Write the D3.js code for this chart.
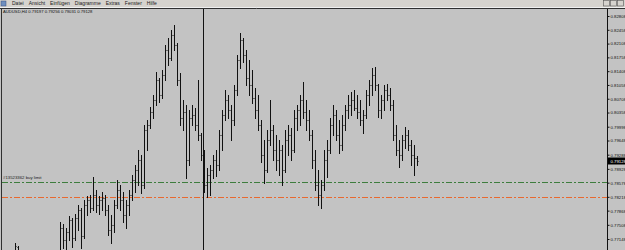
<!DOCTYPE html>
<html>
<head>
<meta charset="utf-8">
<script src="https://cdn.jsdelivr.net/npm/d3@7"></script>
<style>
html, body { margin: 0; padding: 0; overflow: hidden; background: #c3c3c3; }
svg { display: block; }
text { font-family: "Liberation Sans", Arial, sans-serif; }
</style>
</head>
<body>
<svg id="chart" width="625" height="250"></svg>
<script>
// menu + symbol
const menuItems = ['Datei', 'Ansicht', 'Einfügen', 'Diagramme', 'Extras', 'Fenster', 'Hilfe'];
const symbol = 'AUDUSD,H4';

// price scale labels (right side)
const priceTicks = [0.82808, 0.82458, 0.82108, 0.81758, 0.81408, 0.81058, 0.80708, 0.80358,
  0.79998, 0.79648, 0.79288, 0.78928, 0.78578, 0.78218, 0.77868, 0.77508, 0.77148];

// H4 bars, oldest first
const opens = [
  0.7674, 0.7694, 0.7667, 0.7656, 0.7641, 0.7628, 0.7636, 0.7649, 0.7641, 0.7626,
  0.7636, 0.7651, 0.7656, 0.7667, 0.7656, 0.7679, 0.7743, 0.7712, 0.7733, 0.7763,
  0.7717, 0.7768, 0.7788, 0.7722, 0.7801, 0.7814, 0.7793, 0.7826, 0.7801, 0.7814,
  0.7819, 0.7788, 0.7738, 0.7750, 0.7801, 0.7839, 0.7814, 0.7776, 0.7801, 0.7826,
  0.7865, 0.7890, 0.7915, 0.7852, 0.7991, 0.8004, 0.8037, 0.8068, 0.8118, 0.8080,
  0.8131, 0.8195, 0.8174, 0.8233, 0.8207, 0.8118, 0.8022, 0.8037, 0.7915, 0.8022,
  0.8030, 0.8004, 0.7979, 0.7928, 0.7852, 0.7877, 0.7890, 0.7915, 0.7903, 0.7979,
  0.8030, 0.8068, 0.8042, 0.8017, 0.8093, 0.8169, 0.8220, 0.8182, 0.8123, 0.8106,
  0.8073, 0.8042, 0.8004, 0.7928, 0.7890, 0.7966, 0.7991, 0.7941, 0.7915, 0.7941,
  0.7890, 0.7966, 0.7979, 0.7941, 0.8022, 0.8042, 0.8068, 0.8037, 0.8017, 0.7979,
  0.7915, 0.7852, 0.7826, 0.7852, 0.7915, 0.7941, 0.8004, 0.8030, 0.7979, 0.7953,
  0.8004, 0.8042, 0.8055, 0.8068, 0.8047, 0.8037, 0.8017, 0.8030, 0.8080, 0.8106,
  0.8131, 0.8106, 0.8042, 0.8068, 0.8093, 0.8080, 0.8055, 0.7979, 0.7941, 0.7928,
  0.7966, 0.7979, 0.7953, 0.7928, 0.79197
];
const highs = [
  0.7705, 0.7697, 0.7677, 0.7672, 0.7656, 0.7649, 0.7662, 0.7667, 0.7656, 0.7646,
  0.7662, 0.7667, 0.7677, 0.7672, 0.7684, 0.7758, 0.7753, 0.7743, 0.7773, 0.7768,
  0.7778, 0.7801, 0.7793, 0.7814, 0.7824, 0.7826, 0.7872, 0.7839, 0.7824, 0.7834,
  0.7826, 0.7801, 0.7776, 0.7814, 0.7865, 0.7852, 0.7834, 0.7814, 0.7839, 0.7877,
  0.7903, 0.7941, 0.7928, 0.8004, 0.8017, 0.8050, 0.8080, 0.8139, 0.8123, 0.8144,
  0.8207, 0.8225, 0.8245, 0.8258, 0.8212, 0.8136, 0.8068, 0.8055, 0.8042, 0.8055,
  0.8047, 0.8118, 0.7984, 0.7941, 0.7895, 0.7903, 0.7928, 0.7941, 0.7991, 0.8042,
  0.8093, 0.8080, 0.8055, 0.8106, 0.8182, 0.8238, 0.8225, 0.8195, 0.8169, 0.8144,
  0.8098, 0.8080, 0.8017, 0.7966, 0.7991, 0.8068, 0.8004, 0.7979, 0.7966, 0.7953,
  0.7991, 0.8004, 0.7997, 0.8042, 0.8055, 0.8080, 0.8113, 0.8068, 0.8042, 0.7991,
  0.7941, 0.7890, 0.7865, 0.7941, 0.7966, 0.8022, 0.8055, 0.8042, 0.8017, 0.8030,
  0.8055, 0.8080, 0.8088, 0.8093, 0.8080, 0.8068, 0.8042, 0.8093, 0.8118, 0.8149,
  0.8151, 0.8108, 0.8080, 0.8106, 0.8108, 0.8098, 0.8068, 0.8004, 0.7966, 0.7979,
  0.7999, 0.7991, 0.7966, 0.7953, 0.79256
];
const lows = [
  0.7656, 0.7651, 0.7641, 0.7631, 0.7616, 0.7611, 0.7621, 0.7631, 0.7616, 0.7606,
  0.7623, 0.7636, 0.7641, 0.7636, 0.7651, 0.7677, 0.7692, 0.7689, 0.7712, 0.7694,
  0.7712, 0.7738, 0.7692, 0.7717, 0.7776, 0.7783, 0.7788, 0.7783, 0.7778, 0.7788,
  0.7776, 0.7725, 0.7705, 0.7733, 0.7793, 0.7788, 0.7758, 0.7743, 0.7776, 0.7814,
  0.7834, 0.7852, 0.7832, 0.7844, 0.7941, 0.7997, 0.8022, 0.8055, 0.8063, 0.8073,
  0.8118, 0.8156, 0.8169, 0.8195, 0.8106, 0.8004, 0.7991, 0.7870, 0.7903, 0.8004,
  0.7991, 0.7966, 0.7915, 0.7834, 0.7821, 0.7826, 0.7870, 0.7875, 0.7890, 0.7941,
  0.8017, 0.8022, 0.7966, 0.8004, 0.8080, 0.8149, 0.8164, 0.8106, 0.8080, 0.8060,
  0.8022, 0.7991, 0.7910, 0.7857, 0.7885, 0.7953, 0.7915, 0.7890, 0.7877, 0.7852,
  0.7885, 0.7928, 0.7915, 0.7936, 0.7991, 0.8004, 0.8022, 0.7991, 0.7966, 0.7895,
  0.7839, 0.7801, 0.7793, 0.7839, 0.7872, 0.7933, 0.7979, 0.7966, 0.7933, 0.7941,
  0.7991, 0.8022, 0.8030, 0.8042, 0.8022, 0.8004, 0.7984, 0.8022, 0.8055, 0.8080,
  0.8093, 0.8024, 0.8022, 0.8042, 0.8068, 0.8042, 0.7966, 0.7928, 0.7898, 0.7915,
  0.7946, 0.7941, 0.7903, 0.7877, 0.79031
];
const closes = [
  0.7697, 0.7667, 0.7656, 0.7641, 0.7628, 0.7636, 0.7649, 0.7641, 0.7626, 0.7636,
  0.7651, 0.7656, 0.7667, 0.7656, 0.7679, 0.7743, 0.7712, 0.7733, 0.7763, 0.7717,
  0.7768, 0.7788, 0.7722, 0.7801, 0.7814, 0.7793, 0.7826, 0.7801, 0.7814, 0.7819,
  0.7788, 0.7738, 0.7750, 0.7801, 0.7839, 0.7814, 0.7776, 0.7801, 0.7826, 0.7865,
  0.7890, 0.7915, 0.7852, 0.7991, 0.8004, 0.8037, 0.8068, 0.8118, 0.8080, 0.8131,
  0.8195, 0.8174, 0.8233, 0.8207, 0.8118, 0.8022, 0.8037, 0.7915, 0.8022, 0.8030,
  0.8004, 0.7979, 0.7928, 0.7852, 0.7877, 0.7890, 0.7915, 0.7903, 0.7979, 0.8030,
  0.8068, 0.8042, 0.8017, 0.8093, 0.8169, 0.8220, 0.8182, 0.8123, 0.8106, 0.8073,
  0.8042, 0.8004, 0.7928, 0.7890, 0.7966, 0.7991, 0.7941, 0.7915, 0.7941, 0.7890,
  0.7966, 0.7979, 0.7941, 0.8022, 0.8042, 0.8068, 0.8037, 0.8017, 0.7979, 0.7915,
  0.7852, 0.7826, 0.7852, 0.7915, 0.7941, 0.8004, 0.8030, 0.7979, 0.7953, 0.8004,
  0.8042, 0.8055, 0.8068, 0.8047, 0.8037, 0.8017, 0.8030, 0.8080, 0.8106, 0.8131,
  0.8106, 0.8042, 0.8068, 0.8093, 0.8080, 0.8055, 0.7979, 0.7941, 0.7928, 0.7966,
  0.7979, 0.7953, 0.7928, 0.7920, 0.79128
];

// pending order lines
const orderPrices = [0.78602, 0.78206];
const orderLabels = ['#13523362 buy limit', ''];
// vertical line object, in bars
const vlineBar = 62.7;

const W = 625, H = 250;
const axisX = 607;
const svg = d3.select('#chart');
const fmt = d3.format('.5f');

let bars = opens.map((o, i) => ({i: i, o: o, h: highs[i], l: lows[i], c: closes[i]}));
let last = bars[bars.length - 1];

let y = d3.scaleLinear().domain([0.77148, 0.82808]).range([239, 16]);
let x = d3.scaleLinear().domain([0, bars.length - 1]).range([15, 417]);

// background
svg.append('rect').attr('width', W).attr('height', H).attr('fill', '#c3c3c3');

// menu bar
svg.append('rect').attr('width', W).attr('height', 7).attr('fill', '#d6d3ce');
svg.append('rect').attr('x', 1).attr('y', 1).attr('width', 5).attr('height', 5)
  .attr('fill', '#6f8fbf').attr('stroke', '#3a4f80').attr('stroke-width', 0.5);
let mx = 12;
menuItems.forEach(function(m) {
  let t = svg.append('text').attr('x', mx).attr('y', 5.2)
    .attr('font-size', 5).attr('fill', '#202020').text(m);
  mx += t.node().getComputedTextLength() + 5;
});
// window buttons
[0, 1, 2].forEach(function(k) {
  svg.append('rect').attr('x', 603.5 + k * 7).attr('y', 0.5).attr('width', 6).attr('height', 5.5)
    .attr('fill', '#d6d3ce').attr('stroke', '#555').attr('stroke-width', 0.6);
});

// chart frame
svg.append('line').attr('x1', 0).attr('x2', W).attr('y1', 7.5).attr('y2', 7.5).attr('stroke', '#f0f0f0');
svg.append('line').attr('x1', 0).attr('x2', W).attr('y1', 8.5).attr('y2', 8.5).attr('stroke', '#303030');
svg.append('line').attr('x1', 1.5).attr('x2', 1.5).attr('y1', 8).attr('y2', H).attr('stroke', '#303030');

let plot = svg.append('g').attr('shape-rendering', 'crispEdges');

// order lines
let orderColors = ['#3d7d3d', '#e8692f'];
orderPrices.forEach(function(p, k) {
  plot.append('line')
    .attr('x1', 2).attr('x2', axisX)
    .attr('y1', Math.round(y(p)) + 0.5).attr('y2', Math.round(y(p)) + 0.5)
    .attr('stroke', orderColors[k]).attr('stroke-width', 1)
    .attr('stroke-dasharray', '6,2,2,2');
  if (orderLabels[k]) {
    svg.append('text').attr('x', 3).attr('y', y(p) - 2.5)
      .attr('font-size', 4.3).attr('fill', '#1a1a1a').text(orderLabels[k]);
  }
});

// OHLC bars
let bg = plot.append('g');
bars.forEach(function(b) {
  let cx = Math.round(x(b.i)) + 0.5;
  bg.append('line').attr('x1', cx).attr('x2', cx)
    .attr('y1', Math.round(y(b.h))).attr('y2', Math.round(y(b.l)) + 1)
    .attr('stroke', '#111');
  bg.append('line').attr('x1', cx - 1.5).attr('x2', cx - 0.5)
    .attr('y1', Math.round(y(b.o)) + 0.5).attr('y2', Math.round(y(b.o)) + 0.5)
    .attr('stroke', '#6a6a6a');
  bg.append('line').attr('x1', cx + 0.5).attr('x2', cx + 1.5)
    .attr('y1', Math.round(y(b.c)) + 0.5).attr('y2', Math.round(y(b.c)) + 0.5)
    .attr('stroke', '#6a6a6a');
});

// vertical line object
let vx = Math.round(x(vlineBar)) + 0.5;
plot.append('line').attr('x1', vx).attr('x2', vx).attr('y1', 9).attr('y2', H)
  .attr('stroke', '#111');

// right price axis
plot.append('line').attr('x1', axisX + 0.5).attr('x2', axisX + 0.5).attr('y1', 9).attr('y2', H)
  .attr('stroke', '#111');
let axis = d3.axisRight(y).tickValues(priceTicks).tickSize(2).tickPadding(1).tickFormat(fmt);
let ag = svg.append('g').attr('transform', 'translate(' + (axisX + 0.5) + ',0)').call(axis);
ag.select('.domain').remove();
ag.selectAll('.tick line').attr('stroke', '#111');
ag.selectAll('.tick text').attr('font-size', 4.3).attr('fill', '#111')
  .attr('font-family', '"Liberation Sans", Arial, sans-serif');

// current price label
let cy = y(last.c);
svg.append('rect').attr('x', axisX + 1).attr('y', cy - 3.5).attr('width', W - axisX - 1).attr('height', 7)
  .attr('fill', '#000');
svg.append('text').attr('x', axisX + 3.5).attr('y', cy + 1.6)
  .attr('font-size', 4.3).attr('fill', '#fff').text(fmt(last.c));

// header: symbol and last bar OHLC
svg.append('text').attr('x', 3).attr('y', 13)
  .attr('font-size', 4.2).attr('fill', '#111')
  .text(symbol + ' ' + [last.o, last.h, last.l, last.c].map(fmt).join(' '));
</script>
</body>
</html>
